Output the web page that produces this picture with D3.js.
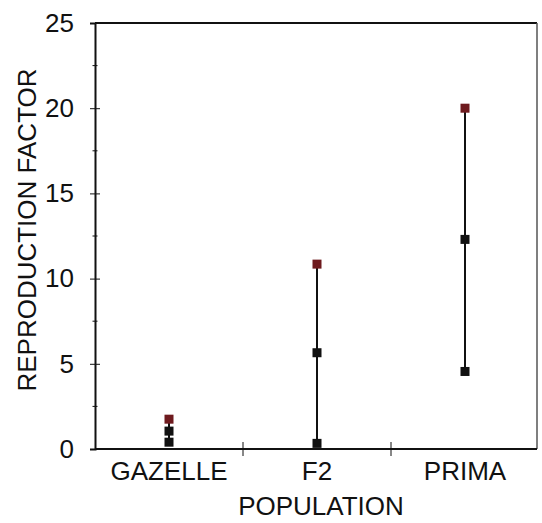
<!DOCTYPE html>
<html>
<head>
<meta charset="utf-8">
<script src="https://cdn.jsdelivr.net/npm/d3@7"></script>
<style>
  body { margin: 0; background: #fff; }
  text { font-family: "Liberation Sans", Arial, sans-serif; fill: #111; }
</style>
</head>
<body>
<div id="chart"></div>
<script>
// data
var populations = ["GAZELLE", "F2", "PRIMA"]
var minValues = [0.4, 0.33, 4.55]
var meanValues = [1.05, 5.65, 12.3]
var maxValues = [1.75, 10.85, 20.0]
var yTicks = [0, 5, 10, 15, 20, 25]
var yMinorTicks = [2.5, 7.5, 12.5, 17.5, 22.5]

var w = 542
var h = 523
var plotLeft = 95, plotRight = 537, plotTop = 23, plotBottom = 449
var fontSize = "26px"

var svg = d3.select("#chart")
    .append("svg")
    .attr("width", w)
    .attr("height", h)

var x = d3.scaleBand()
    .domain(populations)
    .range([plotLeft, plotRight + 2])

var y = d3.scaleLinear()
    .domain([0, 25])
    .range([plotBottom, plotTop])

// frame: top and right lines
svg.append("line")
    .attr("x1", plotLeft).attr("x2", plotRight)
    .attr("y1", plotTop).attr("y2", plotTop)
    .attr("stroke", "#111").attr("stroke-width", 2)

svg.append("line")
    .attr("x1", plotRight).attr("x2", plotRight)
    .attr("y1", plotTop).attr("y2", plotBottom)
    .attr("stroke", "#555").attr("stroke-width", 1.5)

// y axis
var yAxis = svg.append("g")
    .attr("transform", "translate(" + plotLeft + ",0)")
    .call(d3.axisLeft(y).tickValues(yTicks).tickSize(5).tickPadding(16))
yAxis.select(".domain").attr("stroke", "#111").attr("stroke-width", 2)
yAxis.selectAll(".tick line").attr("x2", 5).attr("x1", -5).attr("stroke", "#111")
yAxis.selectAll(".tick text")
    .style("font-size", fontSize)
    .style("font-family", "Liberation Sans, Arial, sans-serif")
    .attr("fill", "#111")

svg.selectAll(".minor")
    .data(yMinorTicks)
    .enter()
    .append("line")
    .attr("class", "minor")
    .attr("x1", plotLeft - 2.5).attr("x2", plotLeft + 2.5)
    .attr("y1", function(d){ return y(d) })
    .attr("y2", function(d){ return y(d) })
    .attr("stroke", "#111")

// x axis
svg.append("line")
    .attr("x1", plotLeft).attr("x2", plotRight)
    .attr("y1", plotBottom).attr("y2", plotBottom)
    .attr("stroke", "#111").attr("stroke-width", 2)

svg.selectAll(".xtick")
    .data(populations.slice(1))
    .enter()
    .append("line")
    .attr("class", "xtick")
    .attr("x1", function(d){ return x(d) })
    .attr("x2", function(d){ return x(d) })
    .attr("y1", plotBottom - 7).attr("y2", plotBottom + 7)
    .attr("stroke", "#111")

svg.selectAll(".xlabel")
    .data(populations)
    .enter()
    .append("text")
    .attr("class", "xlabel")
    .attr("x", function(d){ return x(d) + x.bandwidth() / 2 })
    .attr("y", 480)
    .attr("text-anchor", "middle")
    .style("font-size", fontSize)
    .text(function(d){ return d })

// axis titles
svg.append("text")
    .attr("x", 321)
    .attr("y", 515)
    .attr("text-anchor", "middle")
    .style("font-size", fontSize)
    .text("POPULATION")

svg.append("text")
    .attr("transform", "translate(36,230) rotate(-90)")
    .attr("text-anchor", "middle")
    .style("font-size", fontSize)
    .text("REPRODUCTION FACTOR")

// range lines
svg.selectAll(".range")
    .data(populations)
    .enter()
    .append("line")
    .attr("class", "range")
    .attr("x1", function(d){ return x(d) + x.bandwidth() / 2 })
    .attr("x2", function(d){ return x(d) + x.bandwidth() / 2 })
    .attr("y1", function(d,i){ return y(minValues[i]) })
    .attr("y2", function(d,i){ return y(maxValues[i]) })
    .attr("stroke", "#111")
    .attr("stroke-width", 2)

// markers
var size = 9
function drawMarkers(values, color, cls){
    svg.selectAll("." + cls)
        .data(populations)
        .enter()
        .append("rect")
        .attr("class", cls)
        .attr("x", function(d){ return x(d) + x.bandwidth() / 2 - size / 2 })
        .attr("y", function(d,i){ return y(values[i]) - size / 2 })
        .attr("width", size)
        .attr("height", size)
        .attr("fill", color)
}
drawMarkers(minValues, "#111", "minpt")
drawMarkers(meanValues, "#111", "meanpt")
drawMarkers(maxValues, "#6e1a1e", "maxpt")
</script>
</body>
</html>
